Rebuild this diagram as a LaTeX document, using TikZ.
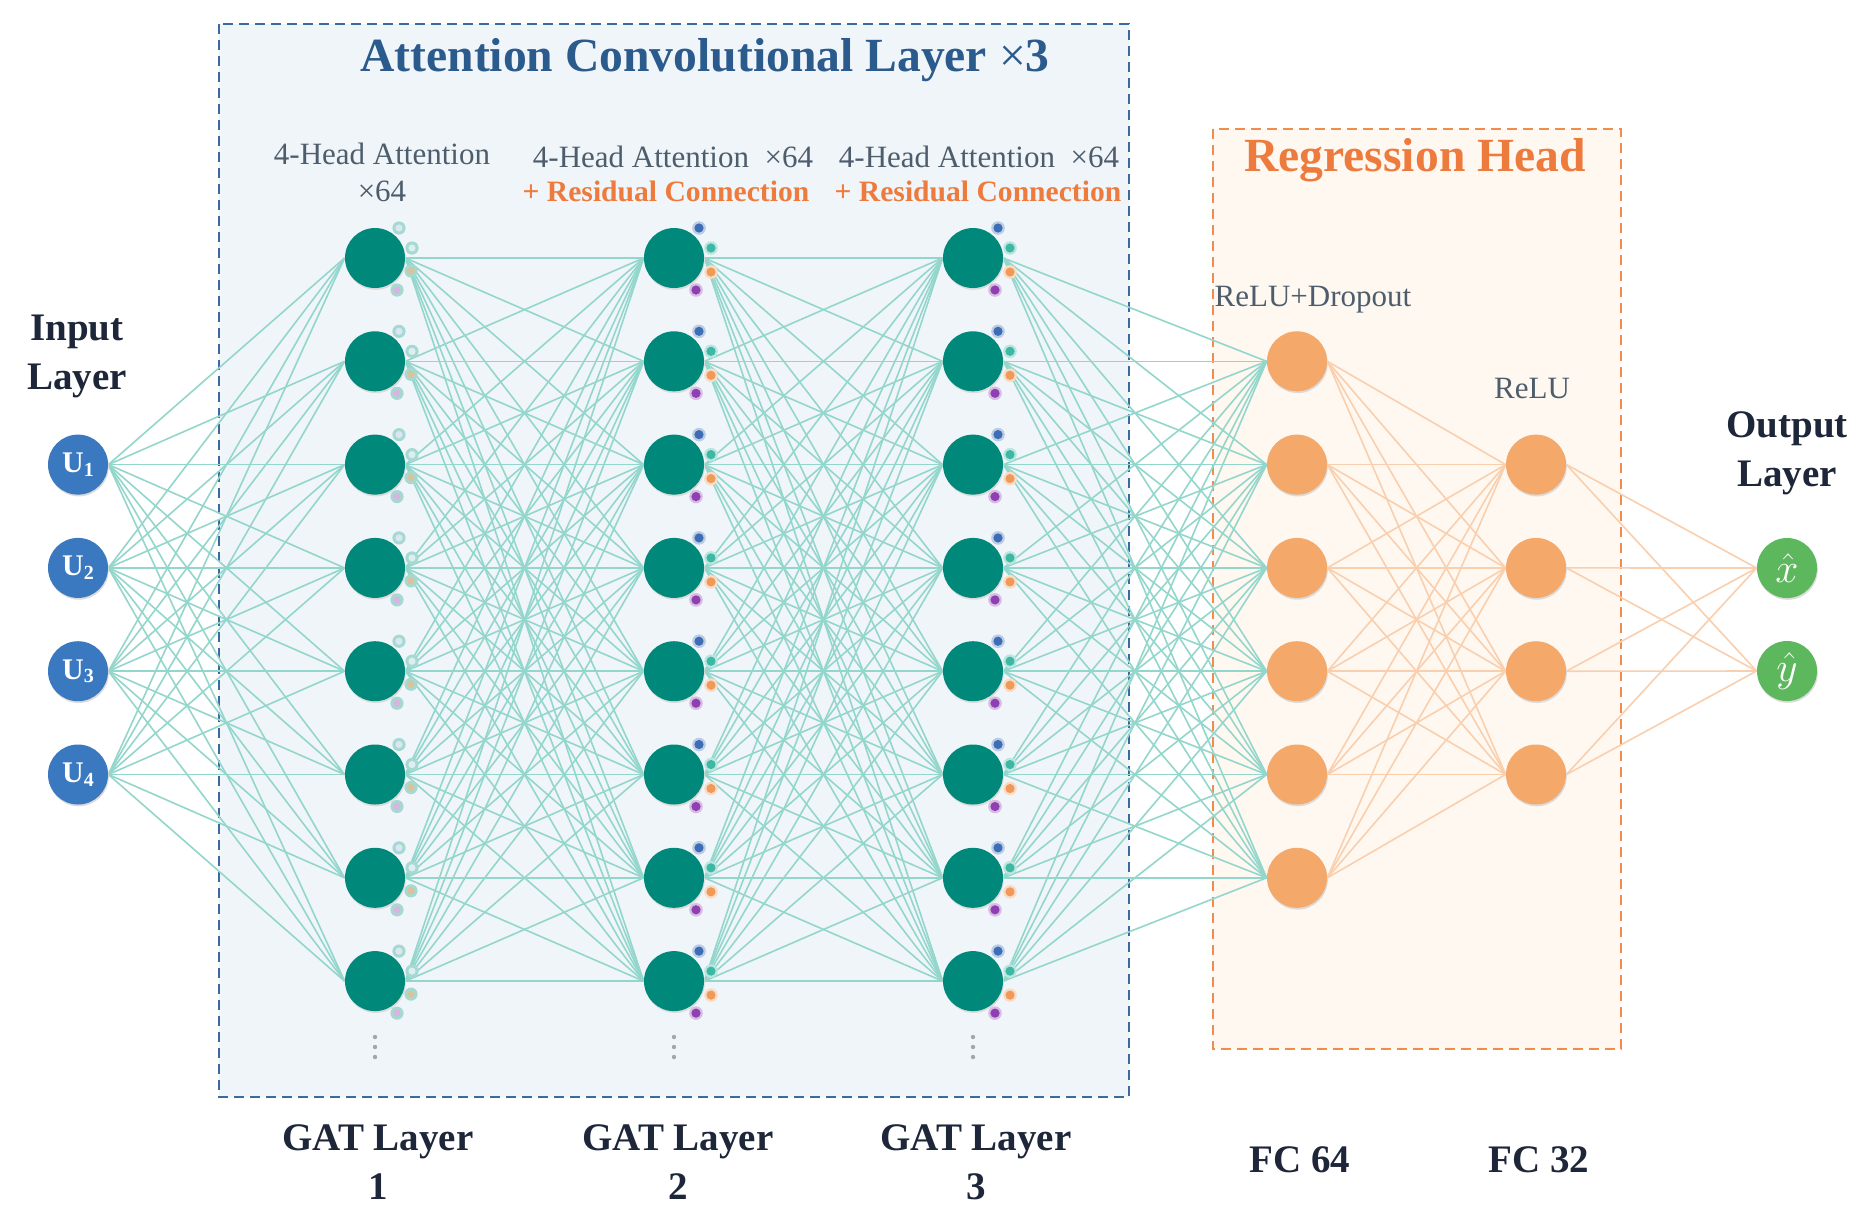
\documentclass[tikz,border=0pt]{standalone}
\usepackage{fontspec}
\setmainfont{Liberation Serif}
\usetikzlibrary{shadows}
\pgfdeclarelayer{bg}
\pgfdeclarelayer{edges}
\pgfsetlayers{bg,edges,main}
\definecolor{attfill}{HTML}{F0F5FA}
\definecolor{attline}{HTML}{3A6A9E}
\definecolor{regfill}{HTML}{FFF8F1}
\definecolor{regline}{HTML}{F08C50}
\definecolor{gatc}{HTML}{00897A}
\definecolor{inc}{HTML}{3A78C0}
\definecolor{fcc}{HTML}{F4A96B}
\definecolor{outc}{HTML}{5DB75D}
\definecolor{tedgec}{HTML}{93D6CB}
\definecolor{oedgec}{HTML}{F9CFAE}
\definecolor{titlec}{HTML}{2B5A8C}
\definecolor{orangetxt}{HTML}{EE7B3E}
\definecolor{slate}{HTML}{4D5D6C}
\definecolor{navy}{HTML}{1D2739}
\definecolor{dblue}{HTML}{3D6DB5}
\definecolor{dteal}{HTML}{3DB8A5}
\definecolor{dorange}{HTML}{F09A5A}
\definecolor{dpurple}{HTML}{8E3FB0}
\definecolor{paleteal}{HTML}{A5D9D2}
\definecolor{pa}{HTML}{DCE6F2}
\definecolor{pb}{HTML}{DCEFF0}
\definecolor{pc}{HTML}{D9C39C}
\definecolor{pd}{HTML}{D6B5E0}
\tikzset{
  neuron/.style={circle, minimum size=30pt, inner sep=0pt,
    general shadow={fill=black!14, shadow xshift=0.4pt, shadow yshift=-0.9pt}},
  innode/.style={neuron, fill=inc, text=white, font=\fontsize{15}{15}\selectfont\bfseries},
  gatnode/.style={neuron, fill=gatc},
  fcnode/.style={neuron, fill=fcc},
  outnode/.style={neuron, fill=outc, text=white, font=\fontsize{20}{20}\selectfont},
  tedge/.style={draw=tedgec, line width=0.8pt},
  oedge/.style={draw=oedgec, line width=0.8pt},
  attbox/.style={draw=attline, fill=attfill, dashed, dash pattern=on 5pt off 3pt, line width=1.2pt},
  regbox/.style={draw=regline, fill=regfill, dashed, dash pattern=on 5pt off 3pt, line width=1.2pt},
  bigtitle/.style={font=\fontsize{23.8}{28}\selectfont\bfseries},
  layerlbl/.style={text=navy, align=center, font=\fontsize{19.5}{24.5}\selectfont\bfseries},
  smalllbl/.style={text=slate, align=center, font=\fontsize{15.5}{18.5}\selectfont},
  reslbl/.style={text=orangetxt, font=\fontsize{14.8}{18}\selectfont\bfseries},
  vdot/.style={fill=gray!70},
}
\begin{document}
\begin{tikzpicture}[x=0.5pt,y=-0.5pt]
\useasboundingbox (0,0) rectangle (1874,1223);
\begin{pgfonlayer}{bg}
\fill[white] (0,0) rectangle (1874,1223);
\draw[attbox] (219,24) rectangle (1129,1097);
\draw[regbox] (1213,129) rectangle (1621,1049);
\end{pgfonlayer}

% nodes
\foreach \i in {1,...,4}
  \node[innode] (u\i) at (78,{258+103.3*(\i+1)}) {U\raisebox{-0.12em}{\fontsize{10}{10}\selectfont\i}};
\foreach \j in {1,...,8} {
  \node[gatnode] (ga\j) at (375,{258+103.3*(\j-1)}) {};
  \node[gatnode] (gb\j) at (674,{258+103.3*(\j-1)}) {};
  \node[gatnode] (gc\j) at (973,{258+103.3*(\j-1)}) {};
}
\foreach \i in {1,...,6}
  \node[fcnode] (fa\i) at (1297,{258+103.3*\i}) {};
\foreach \i in {1,...,4}
  \node[fcnode] (fb\i) at (1536,{258+103.3*(\i+1)}) {};
\node[outnode] (ox) at (1787,568) {$\hat{x}$};
\node[outnode] (oy) at (1787,671) {$\hat{y}$};

% edges
\begin{pgfonlayer}{edges}
\foreach \i in {1,...,4} \foreach \j in {1,...,8}
  \draw[tedge] (u\i.east) -- (ga\j.west);
\foreach \i in {1,...,8} \foreach \j in {1,...,8} {
  \draw[tedge] (ga\i.east) -- (gb\j.west);
  \draw[tedge] (gb\i.east) -- (gc\j.west);
}
\foreach \i in {1,...,8} \foreach \j in {1,...,6}
  \draw[tedge] (gc\i.east) -- (fa\j.west);
\foreach \i in {1,...,6} \foreach \j in {1,...,4}
  \draw[oedge] (fa\i.east) -- (fb\j.west);
\foreach \i in {1,...,4} {
  \draw[oedge] (fb\i.east) -- (ox.west);
  \draw[oedge] (fb\i.east) -- (oy.west);
}
\end{pgfonlayer}

% small head dots
\foreach \j in {1,...,8} {
  \foreach \dx/\dy/\cc in {24/-30/pa, 37/-10/pb, 36/13/pc, 22/32/pd} {
    \fill[paleteal] ([shift={(\dx,\dy)}]ga\j.center) circle (3.3pt);
    \fill[\cc] ([shift={(\dx,\dy)}]ga\j.center) circle (1.8pt);
  }
  \foreach \g in {gb,gc} {
    \foreach \dx/\dy/\cc in {25/-30/dblue, 37/-10/dteal, 37/14/dorange, 22/32/dpurple} {
      \fill[\cc!35] ([shift={(\dx,\dy)}]\g\j.center) circle (3.4pt);
      \fill[\cc] ([shift={(\dx,\dy)}]\g\j.center) circle (2.3pt);
    }
  }
}

% vertical ellipses
\foreach \x in {375, 674, 973}
  \foreach \y in {1037, 1047, 1057}
    \fill[vdot] (\x,\y) circle (1.1pt);

% labels
\node[bigtitle, text=titlec] (title) at (705,60) {Attention Convolutional Layer {\mdseries\texttimes}3};
\node[bigtitle, text=orangetxt] (regtitle) at (1415,160) {Regression Head};
\node[smalllbl] (h1) at (382,172) {4-Head Attention\\\texttimes 64};
\node[smalllbl] (h2) at (673,157) {4-Head Attention\ \ \texttimes 64};
\node[reslbl] (r2) at (666,191) {+ Residual Connection};
\node[smalllbl] (h3) at (979,157) {4-Head Attention\ \ \texttimes 64};
\node[reslbl] (r3) at (978,191) {+ Residual Connection};
\node[smalllbl] (relud) at (1313,300) {ReLU+Dropout};
\node[smalllbl] (relu) at (1532,388) {ReLU};
\node[layerlbl] (inl) at (77,356) {Input\\Layer};
\node[layerlbl] (outl) at (1787,453) {Output\\Layer};
\node[layerlbl] (gl1) at (378,1162) {GAT Layer\\1};
\node[layerlbl] (gl2) at (678,1162) {GAT Layer\\2};
\node[layerlbl] (gl3) at (976,1162) {GAT Layer\\3};
\node[layerlbl] (fc64) at (1300,1160) {FC 64};
\node[layerlbl] (fc32) at (1539,1160) {FC 32};
\end{tikzpicture}
\end{document}
